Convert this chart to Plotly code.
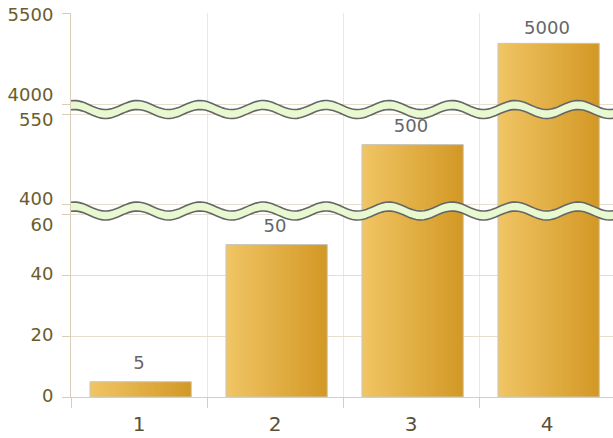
import numpy as np
import plotly.graph_objects as go

# ---------------- data ----------------
categories = ["1", "2", "3", "4"]
values = [5, 50, 500, 5000]
value_labels = ["5", "50", "500", "5000"]

# broken y-axis segments (bottom, middle, top)
bottom_ticks = [0, 20, 40, 60]
bottom_ticktext = ["0", "20", "40", "\u00a0<br>60"]
middle_ticks = [400, 550]
middle_ticktext = ["400", "\u00a0<br>550"]
top_ticks = [4000, 5500]
top_ticktext = ["4000<br>\u00a0", "5500"]

bottom_range = [0, 61.5]
middle_range = [392.5, 559]
top_range = [3918, 5500]

# ---------------- layout constants ----------------
W, H = 613, 438
ML, MR, MT, MB = 71, 0, 13, 41
PW, PH = W - ML - MR, H - MT - MB

def py(pix):  # pixel y -> paper y
    return (H - MB - pix) / PH

def px(pix):  # pixel x -> paper x
    return (pix - ML) / PW

dom_bottom = [0, py(209.5)]
dom_middle = [py(209.5), py(109)]
dom_top = [py(109), 1]

AXIS_COL = "#d8cfb8"
GRID_H = "#e6dfcf"
GRID_V = "#ece8e0"
LABEL_COL = "#6b5d2b"
FONT = "DejaVu Sans"

fig = go.Figure()

# gradient bars, built from slices
N = 30
BW = 0.745
SHIFT = 0.012
w = BW / N
c0 = np.array([240, 197, 100])
c1 = np.array([211, 153, 38])
for ax in ["y", "y2", "y3"]:
    for i in range(N):
        t = i / (N - 1)
        c = (c0 * (1 - t) + c1 * t).astype(int)
        fig.add_trace(go.Bar(
            x=categories, y=values, xaxis="x", yaxis=ax,
            offset=-BW / 2 + SHIFT + i * w,
            width=w * 1.8 if i < N - 1 else w,
            marker=dict(color=f"rgb({c[0]},{c[1]},{c[2]})", line=dict(width=0)),
            hoverinfo="skip", showlegend=False,
        ))
    fig.add_trace(go.Bar(
        x=categories, y=values, xaxis="x", yaxis=ax,
        offset=-BW / 2 + SHIFT, width=BW,
        marker=dict(color="rgba(0,0,0,0)", line=dict(color="#c9c6c0", width=1)),
        hoverinfo="skip", showlegend=False,
    ))

# value labels, each in the segment that holds its value
ranges = {"y": bottom_range, "y2": middle_range, "y3": top_range}
for cat, v, lab in zip(categories, values, value_labels):
    ax = next(a for a, r in ranges.items() if r[0] <= v <= r[1])
    fig.add_trace(go.Scatter(
        x=[cat], y=[v], xaxis="x", yaxis=ax, mode="markers+text",
        marker=dict(size=0 if ax == "y3" else 12, opacity=0),
        text=[lab], textposition="top center",
        textfont=dict(family=FONT, size=18, color="#666666"),
        hoverinfo="skip", showlegend=False,
    ))

# wavy axis-break bands
def wave_shapes(center):
    xs = np.linspace(71, 620, 200)
    top = center - 4.5 - 4.5 * np.cos(2 * np.pi * (xs - 74) / 63)
    bot = top + 9
    pts_top = [(px(x), py(y)) for x, y in zip(xs, top)]
    pts_bot = [(px(x), py(y)) for x, y in zip(xs, bot)]
    poly = pts_top + pts_bot[::-1]
    fill_path = "M " + " L ".join(f"{a:.5f},{b:.5f}" for a, b in poly) + " Z"
    top_path = "M " + " L ".join(f"{a:.5f},{b:.5f}" for a, b in pts_top)
    bot_path = "M " + " L ".join(f"{a:.5f},{b:.5f}" for a, b in pts_bot)
    return [
        dict(type="path", path=fill_path, xref="paper", yref="paper",
             fillcolor="#e8f8d0", line=dict(width=0), layer="above"),
        dict(type="path", path=top_path, xref="paper", yref="paper",
             line=dict(color="#666666", width=1.6), layer="above"),
        dict(type="path", path=bot_path, xref="paper", yref="paper",
             line=dict(color="#666666", width=1.6), layer="above"),
    ]

shapes = wave_shapes(109.5) + wave_shapes(211)

yax_common = dict(
    anchor="x", showline=True, linecolor=AXIS_COL, linewidth=1,
    ticks="outside", ticklen=8, tickcolor=AXIS_COL,
    showgrid=True, gridcolor=GRID_H, zeroline=False, tickmode="array",
    tickfont=dict(family=FONT, size=18, color=LABEL_COL),
    ticklabelstandoff=5, fixedrange=True, automargin=False,
)

fig.update_layout(
    width=W, height=H,
    margin=dict(l=ML, r=MR, t=MT, b=MB, pad=0, autoexpand=False),
    paper_bgcolor="white", plot_bgcolor="white",
    barmode="overlay", showlegend=False,
    xaxis=dict(
        domain=[0, 1], anchor="y", type="category",
        categoryorder="array", categoryarray=categories,
        range=[-0.5, -0.5 + PW / 136],
        tickson="boundaries", ticks="outside", ticklen=10, tickcolor=AXIS_COL,
        showline=True, linecolor=AXIS_COL, showgrid=True, gridcolor=GRID_V,
        tickfont=dict(family=FONT, size=20, color="#5a5035"),
        ticklabelstandoff=9, fixedrange=True, automargin=False,
    ),
    yaxis=dict(domain=dom_bottom, range=bottom_range, tickvals=bottom_ticks,
               ticktext=bottom_ticktext, ticklabelshift=-1, **yax_common),
    yaxis2=dict(domain=dom_middle, range=middle_range, tickvals=middle_ticks,
                ticktext=middle_ticktext, ticklabelshift=-6, **yax_common),
    yaxis3=dict(domain=dom_top, range=top_range, tickvals=top_ticks,
                ticktext=top_ticktext, ticklabelshift=2, **yax_common),
    shapes=shapes,
)

fig.write_html("out.html", config={"displayModeBar": False},
               post_script="document.body.style.margin='0';")
